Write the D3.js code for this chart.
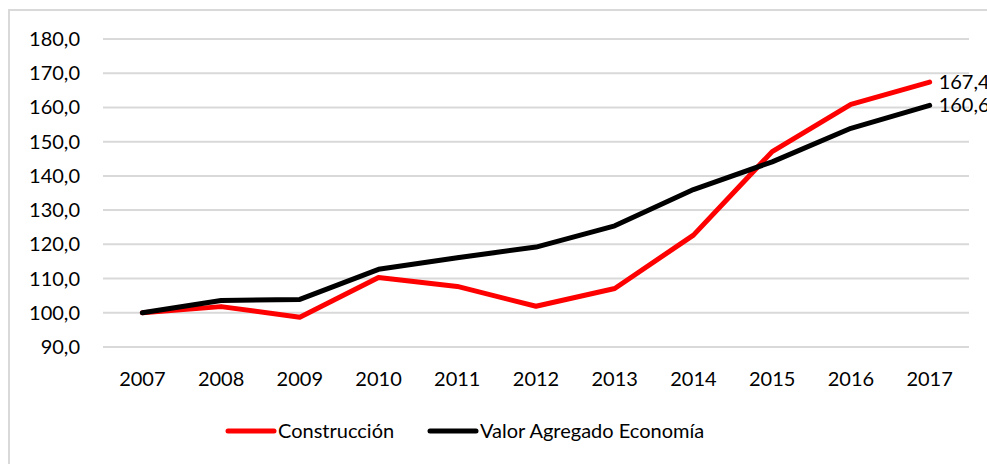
<!DOCTYPE html>
<html lang="es">
<head>
<meta charset="UTF-8" />
<title>Construcción vs Valor Agregado</title>
<style>
  body { margin: 0; background: #fff; }
  text { font-family: Lato, "Open Sans", sans-serif; fill: #000; }
  .grid line { stroke: #d9d9d9; stroke-width: 2px; }
</style>
</head>
<body>
<svg width="987" height="464"></svg>
<script src="https://d3js.org/d3.v7.min.js"></script>
<script>
const years = ['2007', '2008', '2009', '2010', '2011', '2012', '2013', '2014', '2015', '2016', '2017'];
const construccion = [100.0, 101.8, 98.7, 110.3, 107.7, 101.9, 107.1, 122.7, 147.1, 160.9, 167.4];
const valorAgregado = [100.0, 103.6, 103.9, 112.7, 116.1, 119.2, 125.4, 136.0, 144.1, 153.9, 160.6];
const yTicks = [90, 100, 110, 120, 130, 140, 150, 160, 170, 180];
const series = [
    { name: 'Construcción', values: construccion, color: '#ff0000' },
    { name: 'Valor Agregado Economía', values: valorAgregado, color: '#000000' }
];

const svg = d3.select('svg');

// chart border
svg.append('rect')
    .attr('x', 9).attr('y', 10)
    .attr('width', 990).attr('height', 470)
    .attr('fill', 'none').attr('stroke', '#d9d9d9').attr('stroke-width', 2);

const x = d3.scalePoint().domain(years).range([103, 969]).padding(0.5);
const y = d3.scaleLinear().domain([90, 180]).range([347, 39]);

const grid = svg.append('g').attr('class', 'grid');
grid.selectAll('line').data(yTicks).enter().append('line')
    .attr('x1', 103).attr('x2', 969)
    .attr('y1', (d) => y(d)).attr('y2', (d) => y(d));

const fmt = (v) => v.toFixed(1).replace('.', ',');

svg.append('g').selectAll('text').data(yTicks).enter().append('text')
    .attr('x', 80).attr('y', (d) => y(d))
    .attr('dy', '0.35em')
    .attr('text-anchor', 'end')
    .style('font-size', '20px')
    .text(fmt);

svg.append('g').selectAll('text').data(years).enter().append('text')
    .attr('x', (d) => x(d)).attr('y', 379)
    .attr('dy', '0.35em')
    .attr('text-anchor', 'middle')
    .style('font-size', '20px')
    .text((d) => d);

const line = d3.line()
    .x((d, i) => x(years[i]))
    .y((d) => y(d));

series.forEach((s) => {
    svg.append('path')
        .datum(s.values)
        .attr('fill', 'none')
        .attr('stroke', s.color)
        .attr('stroke-width', 5)
        .attr('stroke-linejoin', 'round')
        .attr('stroke-linecap', 'round')
        .attr('d', line);

    const last = s.values[s.values.length - 1];
    svg.append('text')
        .attr('x', x(years[years.length - 1]) + 9)
        .attr('y', y(last))
        .attr('dy', '0.35em')
        .style('font-size', '20px')
        .text(fmt(last));
});

// legend
const legendItems = [
    { s: series[0], x: 228 },
    { s: series[1], x: 430 }
];
legendItems.forEach((item) => {
    svg.append('line')
        .attr('x1', item.x).attr('x2', item.x + 46)
        .attr('y1', 431).attr('y2', 431)
        .attr('stroke', item.s.color)
        .attr('stroke-width', 5)
        .attr('stroke-linecap', 'round');
    svg.append('text')
        .attr('x', item.x + 50).attr('y', 431)
        .attr('dy', '0.35em')
        .style('font-size', '20px')
        .text(item.s.name);
});
</script>
</body>
</html>
